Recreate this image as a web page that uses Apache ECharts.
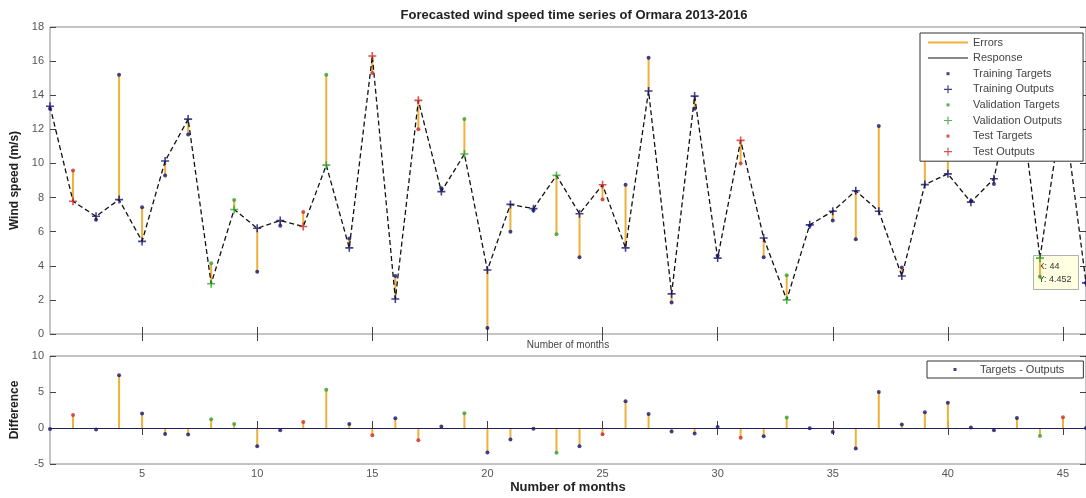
<!DOCTYPE html>
<html><head><meta charset="utf-8">
<script src="https://cdn.jsdelivr.net/npm/echarts@6/dist/echarts.min.js"></script>
<style>html,body{margin:0;padding:0;background:#fff}#c{width:1086px;height:498px}</style>
</head><body><div id="c"></div>
<script>
// ---- data ----
const months  = [1,2,3,4,5,6,7,8,9,10,11,12,13,14,15,16,17,18,19,20,21,22,23,24,25,26,27,28,29,30,31,32,33,34,35,36,37,38,39,40,41,42,43,44,45,46];
const outputs = [13.35,7.78,6.9,7.88,5.43,10.14,12.6,2.95,7.3,6.2,6.65,6.3,9.9,5.05,16.3,2.05,13.7,8.35,10.55,3.75,7.6,7.35,9.3,7.05,8.75,5.05,14.25,2.35,13.95,4.45,11.35,5.63,2.0,6.4,7.2,8.4,7.2,3.4,8.76,9.39,7.73,9.1,15.5,4.45,13.5,3.0];
const targets = [13.2,9.59,6.7,15.2,7.43,9.3,11.7,4.15,7.85,3.65,6.35,7.15,15.2,5.6,15.3,3.4,12.0,8.55,12.6,0.35,6.0,7.25,5.85,4.5,7.88,8.75,16.2,1.85,13.2,4.6,10.0,4.5,3.45,6.35,6.65,5.55,12.2,3.9,10.95,12.9,7.8,8.8,16.9,3.35,15.0,3.0];
const groups  = ['tr','te','tr','tr','tr','tr','tr','va','va','tr','tr','te','va','tr','te','tr','te','tr','va','tr','tr','tr','va','tr','te','tr','tr','tr','tr','tr','te','tr','va','tr','tr','tr','tr','tr','tr','tr','tr','tr','tr','va','te','tr'];
const xTicks    = [5,10,15,20,25,30,35,40,45];
const titleText = 'Forecasted wind speed time series of Ormara 2013-2016';
const tipText   = 'X: 44\nY: 4.452';

// ---- styles ----
const FONT = 'Liberation Sans, Arial, sans-serif';
const ORANGE = '#f0b03c';
const COL = {tr:'#14146e', va:'#2ea02e', te:'#d02828'};
const PLUS = 'path://M4,0h2v4h4v2h-4v4h-2v-4h-4v-2h4z';
const ICON_ERR  = 'path://M0,0M0,4h40v2h-40zM40,10';
const ICON_LINE = 'path://M0,0M0,4.5h40v1h-40zM40,10';
const ICON_DOT  = 'path://M0,0M18.5,3.5h3v3h-3zM40,10';
const ICON_PLUS = 'path://M0,0M16,4.4h8v1.2h-8zM19.4,1h1.2v8h-1.2zM40,10';

const diffs = months.map((m,i)=>targets[i]-outputs[i]);
function pick(arr,g){ return months.filter((m,i)=>groups[i]===g).map(m=>[m,arr[m-1]]); }

const chart = echarts.init(document.getElementById('c'));

function xAxisDef(grid, opts){
  return Object.assign({
    type:'value', gridIndex:grid, min:1, max:46,
    axisLine:{show:false}, splitLine:{show:false},
    axisTick:{show:true, inside:true, length:7, customValues:xTicks, lineStyle:{color:'#444'}},
    axisLabel:{show:false, customValues:xTicks}
  }, opts);
}
function yAxisDef(grid, min, max, interval, opts){
  return Object.assign({
    type:'value', gridIndex:grid, min:min, max:max, interval:interval,
    axisLine:{show:false}, splitLine:{show:false},
    axisTick:{show:true, inside:true, length:6, lineStyle:{color:'#444'}},
    axisLabel:{show:false}
  }, opts);
}
const lineSeg = (api, c) => {
  const p1 = api.coord([api.value(0), api.value(1)]);
  const p2 = api.coord([api.value(0), api.value(2)]);
  return {type:'line', shape:{x1:p1[0],y1:p1[1],x2:p2[0],y2:p2[1]}, style:{stroke:c, lineWidth:2}};
};

const option = {
  animation:false,
  backgroundColor:'#fff',
  title:{text:titleText, left:569, top:4, textAlign:'center',
    textStyle:{fontFamily:FONT, fontSize:13, fontWeight:'bold', color:'#222'}},
  grid:[
    {left:50, top:27, width:1039, height:307, show:true, borderColor:'#888', borderWidth:1, backgroundColor:'#fff'},
    {left:50, top:356, width:1039, height:108, show:true, borderColor:'#888', borderWidth:1, backgroundColor:'#fff'}
  ],
  xAxis:[
    xAxisDef(0,{position:'bottom', name:'Number of months', nameLocation:'middle', nameGap:6,
      nameTextStyle:{fontFamily:FONT, fontSize:10, color:'#444'}}),
    xAxisDef(0,{position:'top'}),
    xAxisDef(1,{position:'bottom', name:'Number of months', nameLocation:'middle', nameGap:17,
      nameTextStyle:{fontFamily:FONT, fontSize:13, fontWeight:'bold', color:'#222'},
      axisLabel:{show:true, customValues:xTicks, margin:4, fontFamily:FONT, fontSize:11, color:'#555'}}),
    xAxisDef(1,{position:'top'})
  ],
  yAxis:[
    yAxisDef(0,0,18,2,{position:'left', name:'Wind speed (m/s)', nameLocation:'middle', nameGap:27,
      nameTextStyle:{fontFamily:FONT, fontSize:12, fontWeight:'bold', color:'#222'},
      axisLabel:{show:true, margin:6, fontFamily:FONT, fontSize:11, color:'#555'}}),
    yAxisDef(0,0,18,2,{position:'right'}),
    yAxisDef(1,-5,10,5,{position:'left', name:'Difference', nameLocation:'middle', nameGap:27,
      nameTextStyle:{fontFamily:FONT, fontSize:12, fontWeight:'bold', color:'#222'},
      axisLabel:{show:true, margin:6, fontFamily:FONT, fontSize:11, color:'#555'}}),
    yAxisDef(1,-5,10,5,{position:'right'})
  ],
  legend:[
    {orient:'vertical', left:920, top:33, itemWidth:40, itemHeight:10, itemGap:4.6,
     padding:[4,21,4,8], backgroundColor:'#fff', borderColor:'#333', borderWidth:1,
     textStyle:{fontFamily:FONT, fontSize:11, color:'#444'}, selectedMode:false,
     data:[
       {name:'Errors', icon:ICON_ERR},
       {name:'Response', icon:ICON_LINE},
       {name:'Training Targets', icon:ICON_DOT},
       {name:'Training Outputs', icon:ICON_PLUS},
       {name:'Validation Targets', icon:ICON_DOT},
       {name:'Validation Outputs', icon:ICON_PLUS},
       {name:'Test Targets', icon:ICON_DOT},
       {name:'Test Outputs', icon:ICON_PLUS}
     ]},
    {orient:'vertical', left:927, top:361, itemWidth:40, itemHeight:10, itemGap:4,
     padding:[3,19,3,8], backgroundColor:'#fff', borderColor:'#333', borderWidth:1,
     textStyle:{fontFamily:FONT, fontSize:11, color:'#444'}, selectedMode:false,
     data:[{name:'Targets - Outputs', icon:ICON_DOT}]}
  ],
  graphic:[
    {type:'group', left:1033, top:255, z:100, children:[
      {type:'rect', shape:{x:0,y:0,width:45,height:34}, style:{fill:'#ffffe1', stroke:'#b0b0b0', lineWidth:1}},
      {type:'text', x:5, y:5, style:{text:tipText, font:'9px '+FONT, fill:'#333', lineHeight:13}}
    ]}
  ],
  series:[
    {name:'Errors', type:'custom', xAxisIndex:0, yAxisIndex:0, itemStyle:{color:ORANGE},
     encode:{x:0, y:[1,2]}, data:months.map((m,i)=>[m,targets[i],outputs[i]]),
     renderItem:(p,api)=>lineSeg(api, ORANGE), z:1},
    {name:'Response', type:'line', xAxisIndex:0, yAxisIndex:0, symbol:'none', z:2,
     itemStyle:{color:'#111'}, lineStyle:{color:'#111', width:1.3, type:[5,3]},
     data:months.map((m,i)=>[m,outputs[i]])},
    {name:'Training Targets', type:'scatter', xAxisIndex:0, yAxisIndex:0, symbol:'circle', symbolSize:4, z:3,
     itemStyle:{color:COL.tr}, data:pick(targets,'tr')},
    {name:'Training Outputs', type:'scatter', xAxisIndex:0, yAxisIndex:0, symbol:PLUS, symbolSize:8, z:3,
     itemStyle:{color:COL.tr}, data:pick(outputs,'tr')},
    {name:'Validation Targets', type:'scatter', xAxisIndex:0, yAxisIndex:0, symbol:'circle', symbolSize:4, z:3,
     itemStyle:{color:COL.va}, data:pick(targets,'va')},
    {name:'Validation Outputs', type:'scatter', xAxisIndex:0, yAxisIndex:0, symbol:PLUS, symbolSize:8, z:3,
     itemStyle:{color:COL.va}, data:pick(outputs,'va')},
    {name:'Test Targets', type:'scatter', xAxisIndex:0, yAxisIndex:0, symbol:'circle', symbolSize:4, z:3,
     itemStyle:{color:COL.te}, data:pick(targets,'te')},
    {name:'Test Outputs', type:'scatter', xAxisIndex:0, yAxisIndex:0, symbol:PLUS, symbolSize:8, z:3,
     itemStyle:{color:COL.te}, data:pick(outputs,'te')},
    {name:'stems', type:'custom', xAxisIndex:2, yAxisIndex:2, itemStyle:{color:ORANGE},
     encode:{x:0, y:[1,2]}, data:months.map((m,i)=>[m,0,diffs[i]]),
     renderItem:(p,api)=>lineSeg(api, ORANGE), z:1,
     markLine:{silent:true, symbol:'none', label:{show:false},
       lineStyle:{color:'#22225a', width:1, type:'solid'}, data:[{yAxis:0}]}},
    {name:'Targets - Outputs', type:'scatter', xAxisIndex:2, yAxisIndex:2, symbol:'circle', symbolSize:4, z:3,
     itemStyle:{color:COL.tr},
     data:months.map((m,i)=>({value:[m,diffs[i]], itemStyle:{color:COL[groups[i]]}}))}
  ]
};
chart.setOption(option);
</script>
</body></html>
